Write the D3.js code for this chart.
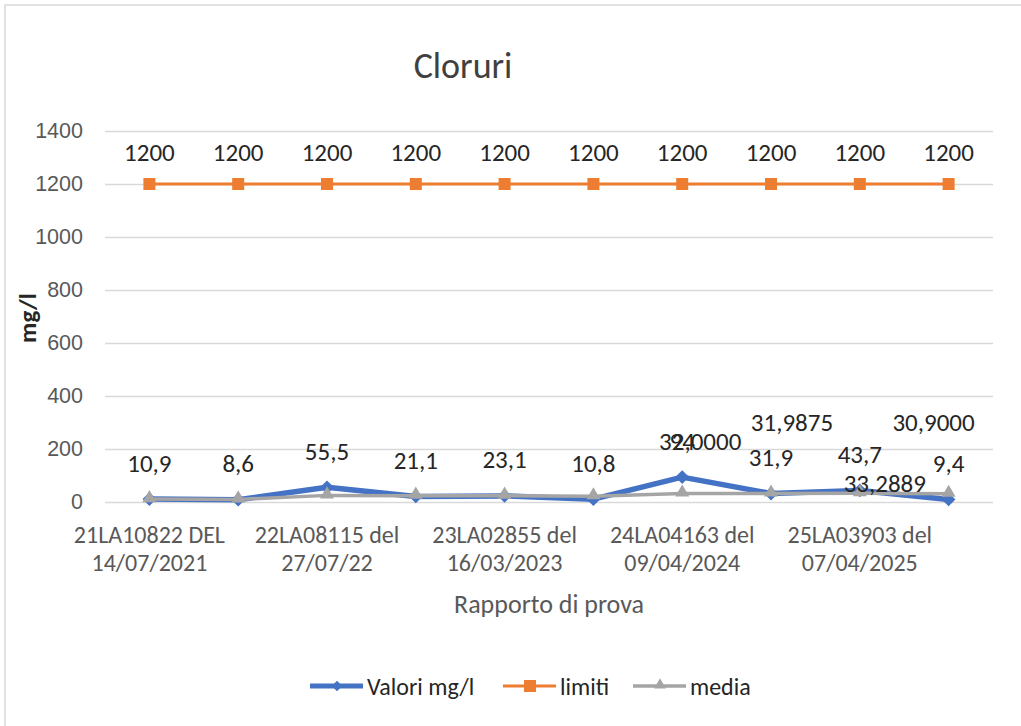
<!DOCTYPE html>
<html><head><meta charset="utf-8">
<script src="https://cdn.jsdelivr.net/npm/d3@7"></script>
<style>
html,body{margin:0;padding:0;background:#fff;}
svg{display:block;font-family:Carlito,Lato,"Open Sans",sans-serif;}
</style></head>
<body><svg id="c" width="1021" height="726"></svg>
<script>
// ---- data ----
const categories = [
  ["21LA10822 DEL","14/07/2021"],
  ["22LA08114 del","27/07/22"],
  ["22LA08115 del","27/07/22"],
  ["23LA02854 del","16/03/2023"],
  ["23LA02855 del","16/03/2023"],
  ["24LA04162 del","09/04/2024"],
  ["24LA04163 del","09/04/2024"],
  ["25LA03902 del","07/04/2025"],
  ["25LA03903 del","07/04/2025"],
  ["25LA03904 del","07/04/2025"]
];
const shownCategory = [true,false,true,false,true,false,true,false,true,false];
const valori = [10.9, 8.6, 55.5, 21.1, 23.1, 10.8, 94, 31.9, 43.7, 9.4];
const limiti = [1200,1200,1200,1200,1200,1200,1200,1200,1200,1200];
const media  = [10.9, 9.75, 25.0, 24.025, 23.86, 21.6667, 32.0, 31.9875, 33.2889, 30.9];
const mediaLabelShown = [false,false,false,false,false,false,true,true,true,true];
const yTicks = [0,200,400,600,800,1000,1200,1400];
const title = "Cloruri";
const yTitle = "mg/l";
const xTitle = "Rapporto di prova";
const seriesNames = ["Valori mg/l","limiti","media"];

// ---- layout ----
const svg = d3.select("#c");
const plot = {l:105, r:993, t:131, b:502};
const fmtComma = (v, d) => v.toFixed(d).replace(".", ",");
const fmtVal = v => String(v).replace(".", ",");

svg.append("rect").attr("x",5).attr("y",5).attr("width",1040).attr("height",760)
  .attr("fill","#fff").attr("stroke","#d9d9d9").attr("stroke-width",1.5);

const x = d3.scalePoint().domain(d3.range(categories.length)).range([plot.l, plot.r]).padding(0.5);
const y = d3.scaleLinear().domain([0,1400]).range([plot.b, plot.t]);

// gridlines + y axis
const yAxis = d3.axisLeft(y).tickValues(yTicks).tickSize(-(plot.r-plot.l)).tickPadding(22).tickFormat(d3.format("d"));
const gy = svg.append("g").attr("transform",`translate(${plot.l},0)`).call(yAxis);
gy.select(".domain").remove();
gy.selectAll(".tick line").attr("stroke","#d9d9d9").attr("stroke-width",1.5);
gy.selectAll(".tick text").attr("fill","#595959").style("font-size","21.5px");

// x axis labels
const gx = svg.append("g");
categories.forEach((c,i) => {
  if (!shownCategory[i]) return;
  const t = gx.append("text").attr("x", x(i)).attr("text-anchor","middle")
    .attr("fill","#595959").style("font-size","24px");
  t.append("tspan").attr("x", x(i)).attr("y", 543).text(c[0]);
  t.append("tspan").attr("x", x(i)).attr("y", 571).text(c[1]);
});

// titles
svg.append("text").attr("x",463).attr("y",78).attr("text-anchor","middle")
  .attr("fill","#404040").style("font-size","36px").text(title);
svg.append("text").attr("transform","translate(36,318) rotate(-90)").attr("text-anchor","middle")
  .attr("fill","#262626").style("font-size","25px").style("font-weight","600").text(yTitle);
svg.append("text").attr("x",549).attr("y",613).attr("text-anchor","middle")
  .attr("fill","#595959").style("font-size","26px").text(xTitle);

// series
const line = d3.line().x((d,i)=>x(i)).y(d=>y(d));
const colors = {valori:"#4472C4", limiti:"#ED7D31", media:"#A5A5A5"};

svg.append("path").datum(valori).attr("d",line).attr("fill","none")
  .attr("stroke",colors.valori).attr("stroke-width",5.5).attr("stroke-linejoin","round");
svg.append("g").selectAll("path").data(valori).join("path")
  .attr("d", d3.symbol(d3.symbolDiamond2, 120)).attr("transform",(d,i)=>`translate(${x(i)},${y(d)})`)
  .attr("fill",colors.valori);

svg.append("path").datum(limiti).attr("d",line).attr("fill","none")
  .attr("stroke",colors.limiti).attr("stroke-width",3);
svg.append("g").selectAll("rect").data(limiti).join("rect")
  .attr("x",(d,i)=>x(i)-6).attr("y",d=>y(d)-6).attr("width",12).attr("height",12)
  .attr("fill",colors.limiti);

svg.append("path").datum(media).attr("d",line).attr("fill","none")
  .attr("stroke",colors.media).attr("stroke-width",3.5).attr("stroke-linejoin","round");
svg.append("g").selectAll("path").data(media).join("path")
  .attr("d", d3.symbol(d3.symbolTriangle, 85)).attr("transform",(d,i)=>`translate(${x(i)},${y(d)-1})`)
  .attr("fill",colors.media);

// data labels
const lab = svg.append("g").attr("fill","#262626").style("font-size","25px").attr("text-anchor","middle")
  .attr("dominant-baseline","central");
limiti.forEach((v,i)=> lab.append("text").attr("x",x(i)).attr("y",y(v)-32).text(fmtVal(v)));
valori.forEach((v,i)=> lab.append("text").attr("x",x(i)).attr("y",y(v)-36).text(fmtVal(v)));
const mediaLabelOffset = [[0,0],[0,0],[0,0],[0,0],[0,0],[0,0],[18,-52],[21,-71],[25,-10],[-15,-71]];
media.forEach((v,i)=> { if (!mediaLabelShown[i]) return;
  lab.append("text").attr("x",x(i)+mediaLabelOffset[i][0]).attr("y",y(v)+mediaLabelOffset[i][1]).text(fmtComma(v,4)); });

// legend
const lg = svg.append("g").attr("transform","translate(0,686)");
const legendItems = [
  {name:seriesNames[0], c:colors.valori, x0:310, sw:5, mark:"diamond"},
  {name:seriesNames[1], c:colors.limiti, x0:503, sw:3, mark:"square"},
  {name:seriesNames[2], c:colors.media,  x0:633, sw:3.5, mark:"triangle"}
];
legendItems.forEach(it => {
  const g = lg.append("g");
  g.append("line").attr("x1",it.x0).attr("x2",it.x0+53).attr("y1",0).attr("y2",0)
    .attr("stroke",it.c).attr("stroke-width",it.sw);
  const cx = it.x0+27;
  if (it.mark==="diamond") g.append("path").attr("d",d3.symbol(d3.symbolDiamond2,70)).attr("transform",`translate(${cx},0)`).attr("fill",it.c);
  if (it.mark==="square") g.append("rect").attr("x",cx-6).attr("y",-6).attr("width",12).attr("height",12).attr("fill",it.c);
  if (it.mark==="triangle") g.append("path").attr("d",d3.symbol(d3.symbolTriangle,60)).attr("transform",`translate(${cx},-1)`).attr("fill",it.c);
  g.append("text").attr("x",it.x0+57).attr("y",0).attr("dominant-baseline","central")
    .attr("fill","#262626").style("font-size","24px").text(it.name);
});
</script></body></html>
